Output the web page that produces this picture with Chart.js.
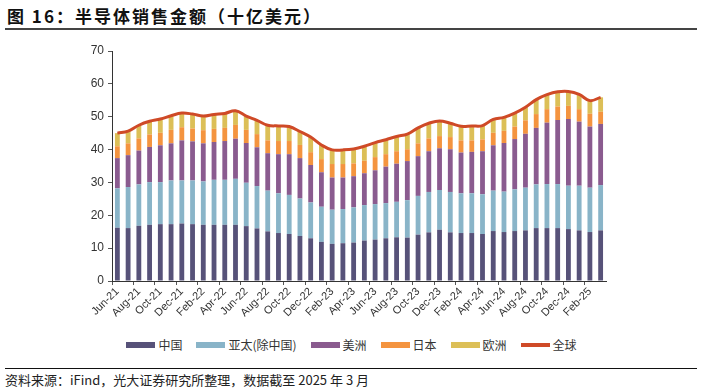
<!DOCTYPE html>
<html>
<head>
<meta charset="utf-8">
<script src="https://cdn.jsdelivr.net/npm/chart.js@4.4.1/dist/chart.umd.min.js"></script>
<style>
    body { margin: 0; background: #fff; font-family: "Noto Sans CJK SC", "Noto Sans", sans-serif; }
    #wrap { position: relative; width: 703px; height: 390px; overflow: hidden; }
    #title { position: absolute; left: 7px; top: 3px; font-size: 17px; letter-spacing: 2px; font-weight: bold; color: #111; }
    #titleRule { position: absolute; left: 5px; top: 28px; width: 692px; height: 2px; background: #444; }
    #chartBox { position: absolute; left: 0; top: 0; width: 703px; height: 330px; }
    #legend { position: absolute; left: 0; top: 336px; width: 703px; display: flex; justify-content: center; font-size: 12px; color: #333; }
    .item { display: flex; align-items: center; margin: 0 7px; }
    .swatch { width: 29px; height: 6px; margin-right: 3px; }
    #srcRule { position: absolute; left: 5px; top: 368px; width: 692px; height: 1px; background: #111; }
    #source { position: absolute; left: 5px; top: 370px; font-size: 13px; color: #222; }
</style>
</head>
<body>
<div id="wrap">
    <div id="title">图 16：半导体销售金额（十亿美元）</div>
    <div id="titleRule"></div>
    <div id="chartBox"><canvas id="salesChart"></canvas></div>
    <div id="legend"></div>
    <div id="srcRule"></div>
    <div id="source">资料来源：iFind，光大证券研究所整理，数据截至 2025 年 3 月</div>
</div>
<script>
const months = [
    'Jun-21', 'Jul-21', 'Aug-21', 'Sep-21', 'Oct-21', 'Nov-21', 'Dec-21', 'Jan-22', 'Feb-22', 'Mar-22',
    'Apr-22', 'May-22', 'Jun-22', 'Jul-22', 'Aug-22', 'Sep-22', 'Oct-22', 'Nov-22', 'Dec-22', 'Jan-23',
    'Feb-23', 'Mar-23', 'Apr-23', 'May-23', 'Jun-23', 'Jul-23', 'Aug-23', 'Sep-23', 'Oct-23', 'Nov-23',
    'Dec-23', 'Jan-24', 'Feb-24', 'Mar-24', 'Apr-24', 'May-24', 'Jun-24', 'Jul-24', 'Aug-24', 'Sep-24',
    'Oct-24', 'Nov-24', 'Dec-24', 'Jan-25', 'Feb-25', 'Mar-25'
];

const china = [
    16.2, 16.1, 16.8, 17.1, 17.3, 17.3, 17.5, 17.3, 17.1, 17.1,
    17.1, 17.1, 16.7, 16.0, 15.1, 14.6, 14.3, 13.7, 13.0, 11.9,
    11.3, 11.5, 11.7, 12.3, 12.6, 13.0, 13.3, 13.2, 14.1, 14.8,
    15.6, 14.8, 14.6, 14.6, 14.3, 15.2, 14.9, 15.2, 15.4, 16.1,
    16.1, 16.1, 15.8, 15.4, 14.9, 15.4
];
const apacExChina = [
    12.0, 12.5, 12.6, 13.0, 12.8, 13.3, 13.1, 13.3, 13.2, 13.7,
    13.7, 14.0, 13.2, 12.9, 12.4, 12.1, 11.9, 11.4, 10.9, 10.7,
    10.4, 10.4, 10.7, 10.8, 10.8, 10.7, 10.8, 11.4, 11.8, 12.3,
    12.1, 12.3, 12.1, 12.1, 12.1, 12.3, 12.3, 12.7, 13.0, 13.3,
    13.4, 13.4, 13.2, 13.6, 13.5, 13.8
];
const americas = [
    9.2, 9.7, 10.3, 10.7, 11.2, 11.3, 12.2, 11.9, 11.6, 11.5,
    11.8, 12.2, 12.1, 11.8, 11.4, 11.9, 12.4, 12.3, 11.4, 10.5,
    9.8, 9.6, 9.5, 9.7, 10.3, 11.1, 11.6, 11.9, 12.1, 12.4,
    12.7, 13.0, 12.4, 12.6, 13.1, 13.8, 14.8, 15.3, 16.4, 17.2,
    18.7, 19.5, 20.3, 19.5, 18.6, 18.6
];
const japan = [
    3.6, 3.6, 3.7, 3.8, 3.8, 4.1, 4.0, 3.9, 4.0, 4.0,
    4.0, 4.2, 4.0, 4.0, 3.9, 4.0, 4.0, 4.0, 3.9, 4.0,
    4.1, 4.1, 3.9, 3.8, 4.0, 3.8, 3.8, 3.6, 3.9, 3.9,
    3.7, 3.7, 3.7, 3.5, 3.6, 3.8, 3.7, 3.8, 4.1, 4.2,
    4.1, 4.1, 4.0, 3.8, 3.9, 3.7
];
const europe = [
    4.0, 3.7, 4.0, 4.0, 4.2, 4.3, 4.3, 4.4, 4.3, 4.4,
    4.4, 4.3, 4.2, 4.2, 4.6, 4.6, 4.4, 4.1, 4.6, 4.3,
    4.3, 4.3, 4.4, 4.4, 4.4, 4.4, 4.5, 4.6, 4.7, 4.6,
    4.6, 4.2, 4.3, 4.4, 4.2, 4.1, 4.1, 4.1, 4.0, 4.4,
    4.4, 4.5, 4.4, 4.5, 4.0, 4.4
];
const world = [
    45.0, 45.6, 47.4, 48.6, 49.3, 50.3, 51.1, 50.8, 50.2, 50.7,
    51.0, 51.8, 50.2, 48.9, 47.4, 47.2, 47.0, 45.5, 43.8, 41.4,
    39.9, 39.9, 40.2, 41.0, 42.1, 43.0, 44.0, 44.7, 46.6, 48.0,
    48.7, 48.0, 47.1, 47.2, 47.3, 49.2, 49.8, 51.1, 52.9, 55.2,
    56.7, 57.6, 57.7, 56.8, 54.9, 55.9
];
const yTicks = [0, 10, 20, 30, 40, 50, 60, 70];

const seriesNames = ['中国', '亚太(除中国)', '美洲', '日本', '欧洲', '全球'];
const seriesColors = ['#575279', '#89b4c8', '#8a5b8f', '#f4943f', '#dcbf57', '#cf4a27'];

function initChart() {
    const ctx = document.getElementById('salesChart').getContext('2d');
    const barSets = [china, apacExChina, americas, japan, europe].map((vals, i) => ({
        type: 'bar',
        label: seriesNames[i],
        data: vals,
        backgroundColor: seriesColors[i],
        stack: 'regions',
        order: 1,
        categoryPercentage: 1,
        barPercentage: 0.45
    }));

    new Chart(ctx, {
        data: {
            labels: months,
            datasets: [...barSets, {
                type: 'line',
                label: seriesNames[5],
                data: world,
                borderColor: seriesColors[5],
                borderWidth: 3,
                pointRadius: 0,
                tension: 0.4,
                order: 0
            }]
        },
        options: {
            responsive: true,
            maintainAspectRatio: false,
            animation: false,
            layout: { padding: { top: 51, right: 97, left: 0, bottom: 0 } },
            plugins: { legend: { display: false }, tooltip: { enabled: false } },
            scales: {
                x: {
                    stacked: true,
                    afterFit: (scale) => { scale.height = 49; },
                    border: { color: '#333', width: 1 },
                    grid: {
                        offset: true,
                        drawOnChartArea: false,
                        tickLength: 4,
                        color: (c) => (c.index % 2 === 0 ? '#555' : 'rgba(0,0,0,0)')
                    },
                    ticks: {
                        autoSkip: false,
                        maxRotation: 45,
                        minRotation: 45,
                        padding: 0,
                        color: '#333',
                        font: { family: 'Liberation Sans, Arial', size: 11 },
                        callback: function (val, idx) { return idx % 2 === 0 ? months[idx] : ''; }
                    }
                },
                y: {
                    stacked: true,
                    min: 0,
                    max: 70,
                    afterFit: (scale) => { scale.width = 112; },
                    afterBuildTicks: (scale) => { scale.ticks = yTicks.map(v => ({ value: v })); },
                    border: { color: '#333', width: 1 },
                    grid: { drawOnChartArea: false, tickLength: 4, color: '#555' },
                    ticks: {
                        padding: 4,
                        color: '#333',
                        font: { family: 'Liberation Sans, Arial', size: 12 }
                    }
                }
            }
        }
    });
}

function buildLegend() {
    const box = document.getElementById('legend');
    box.innerHTML = seriesNames.map((name, i) => `
        <div class="item">
            <span class="swatch" style="background:${seriesColors[i]};${i === 5 ? 'height:4px;' : ''}"></span>
            <span>${name}</span>
        </div>
    `).join('');
}

document.addEventListener('DOMContentLoaded', () => {
    buildLegend();
    initChart();
});
</script>
</body>
</html>
